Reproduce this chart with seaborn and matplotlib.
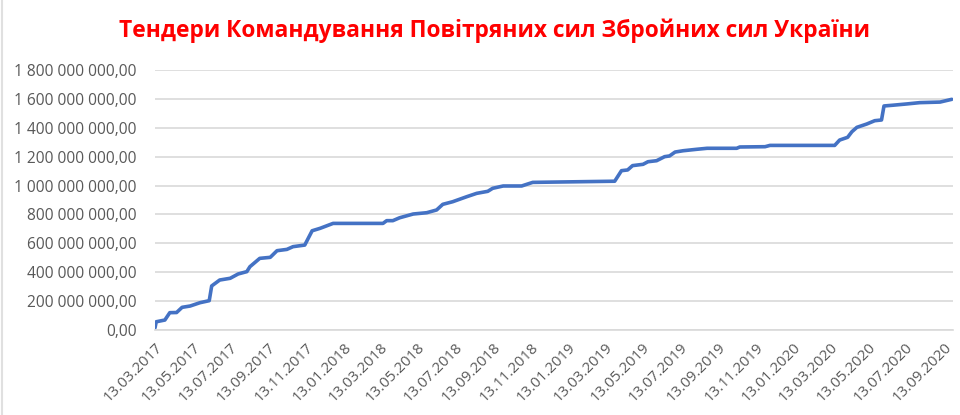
import matplotlib
matplotlib.use("Agg")
import matplotlib.pyplot as plt
import matplotlib.dates as mdates
from matplotlib.ticker import FuncFormatter
import seaborn as sns
import pandas as pd
import numpy as np

title = "Тендери Командування Повітряних сил Збройних сил України"

dates = [
    "2017-03-13", "2017-03-15", "2017-03-29", "2017-04-06", "2017-04-17", "2017-04-26",
    "2017-05-09", "2017-05-25", "2017-06-09", "2017-06-13", "2017-06-26", "2017-07-13",
    "2017-07-26", "2017-08-09", "2017-08-14", "2017-08-30", "2017-09-16", "2017-09-27",
    "2017-10-13", "2017-10-23", "2017-11-11", "2017-11-23", "2017-12-06", "2017-12-27",
    "2018-03-18", "2018-03-24", "2018-04-03", "2018-04-14", "2018-05-06", "2018-05-28",
    "2018-06-13", "2018-06-23", "2018-07-09", "2018-08-01", "2018-08-17", "2018-09-04",
    "2018-09-12", "2018-09-29", "2018-10-29", "2018-11-08", "2018-11-16", "2019-03-29",
    "2019-04-09", "2019-04-19", "2019-04-27", "2019-05-14", "2019-05-22", "2019-06-05",
    "2019-06-18", "2019-06-26", "2019-07-05", "2019-07-18", "2019-08-09", "2019-08-26",
    "2019-10-13", "2019-10-18", "2019-11-28", "2019-12-06", "2020-03-20", "2020-03-28",
    "2020-04-10", "2020-04-17", "2020-04-25", "2020-05-11", "2020-05-24", "2020-06-04",
    "2020-06-08", "2020-06-22", "2020-07-15", "2020-08-05", "2020-09-07", "2020-09-26",
]
values_mln = [
    15, 57, 69, 120, 121, 157,
    166, 189, 203, 305, 346, 358,
    388, 404, 438, 496, 503, 549,
    558, 577, 588, 687, 704, 738,
    738, 757, 757, 777, 803, 812,
    831, 870, 888, 923, 946, 960,
    981, 997, 997, 1011, 1022, 1030,
    1103, 1108, 1138, 1147, 1165, 1172,
    1200, 1205, 1232, 1241, 1251, 1258,
    1258, 1267, 1269, 1278, 1278, 1315,
    1334, 1373, 1403, 1426, 1449, 1454,
    1551, 1556, 1565, 1574, 1578, 1597,
]

tick_dates = [
    "2017-03-13", "2017-05-13", "2017-07-13", "2017-09-13", "2017-11-13",
    "2018-01-13", "2018-03-13", "2018-05-13", "2018-07-13", "2018-09-13", "2018-11-13",
    "2019-01-13", "2019-03-13", "2019-05-13", "2019-07-13", "2019-09-13", "2019-11-13",
    "2020-01-13", "2020-03-13", "2020-05-13", "2020-07-13", "2020-09-13",
]
y_ticks = [0, 200e6, 400e6, 600e6, 800e6, 1000e6, 1200e6, 1400e6, 1600e6, 1800e6]

df = pd.DataFrame({"date": pd.to_datetime(dates), "value": np.array(values_mln) * 1e6})

sns.set_style("white")
plt.rcParams["font.family"] = ["Open Sans", "DejaVu Sans"]

fig = plt.figure(figsize=(9.6, 4.15), dpi=100)
ax = fig.add_axes([155 / 960, 1 - 330 / 415, (953 - 155) / 960, (330 - 70) / 415])

sns.lineplot(data=df, x="date", y="value", ax=ax, color="#4472C4", linewidth=2.6,
             solid_joinstyle="round", solid_capstyle="round")

ax.set_xlim(pd.Timestamp("2017-03-13"), pd.Timestamp("2020-09-28"))
ax.set_ylim(0, 1800e6)
ax.set_yticks(y_ticks)

def fmt(v, pos):
    s = f"{int(round(v)):,}".replace(",", " ")
    return s + ",00"

ax.yaxis.set_major_formatter(FuncFormatter(fmt))
tdates = pd.to_datetime(tick_dates)
ax.set_xticks(tdates)
ax.set_xticklabels([d.strftime("%d.%m.%Y") for d in tdates])

ax.grid(axis="y", color="#D9D9D9", linewidth=1.2)
ax.grid(axis="x", visible=False)
ax.set_axisbelow(True)
for s in ["left", "right", "top"]:
    ax.spines[s].set_visible(False)
ax.spines["bottom"].set_color("#D9D9D9")
ax.spines["bottom"].set_linewidth(1.2)

ax.tick_params(axis="y", length=0, pad=13, labelsize=11.2, labelcolor="#595959")
ax.tick_params(axis="x", length=5, width=1.0, color="#D9D9D9", direction="out",
               labelsize=10.8, labelcolor="#595959", pad=2)
for lab in ax.get_xticklabels():
    lab.set_rotation(45)
    lab.set_ha("right")
    lab.set_va("top")
    lab.set_rotation_mode("anchor")

ax.set_xlabel("")
ax.set_ylabel("")

fig.text(0.515, 1 - 31 / 415, title, ha="center", va="center", color="#FF0000",
         fontsize=16.4, fontweight="bold", family=["Open Sans", "DejaVu Sans"])

fig.add_artist(plt.Line2D([1.5 / 960, 1.5 / 960], [0, 1], color="#E0E0E0", linewidth=1.5,
                          transform=fig.transFigure))

fig.savefig("out.png", dpi=100)
